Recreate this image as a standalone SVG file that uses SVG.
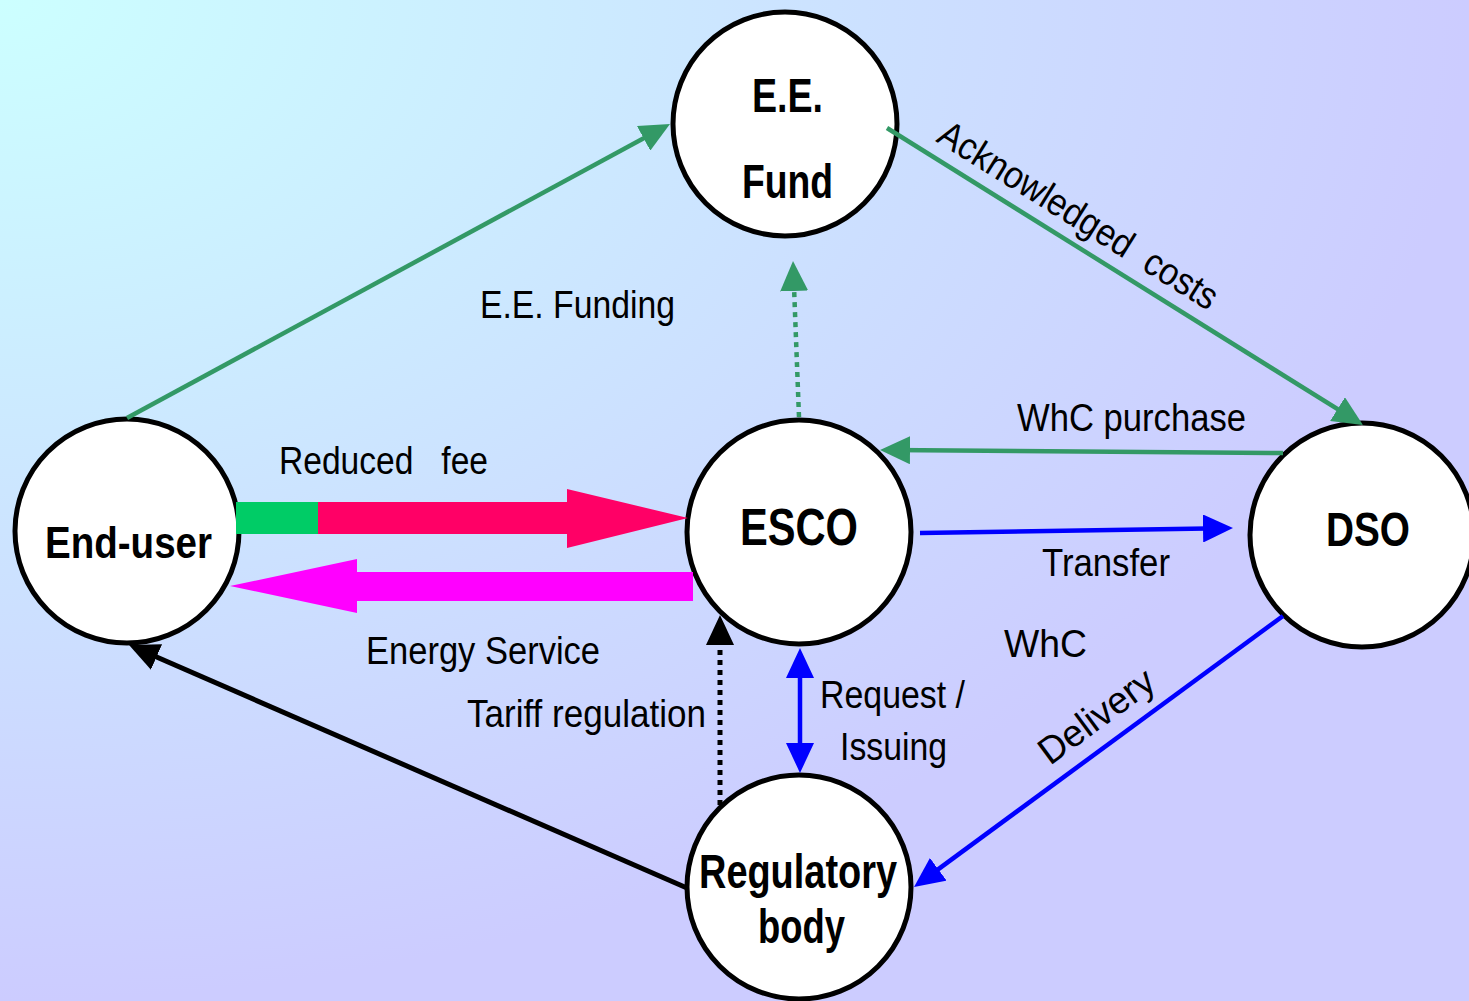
<svg xmlns="http://www.w3.org/2000/svg" width="1469" height="1001" viewBox="0 0 1469 1001">
<defs>
<radialGradient id="bg" cx="0" cy="0" r="1" fx="0" fy="0" gradientUnits="objectBoundingBox">
<stop offset="0" stop-color="#ccffff"/>
<stop offset="1" stop-color="#ccccff"/>
</radialGradient>
<marker id="ag" markerUnits="userSpaceOnUse" markerWidth="30" markerHeight="28" viewBox="0 0 30 28" refX="20" refY="14" orient="auto"><path d="M0,0 L30,14 L0,28 z" fill="#339966"/></marker>
<marker id="ab" markerUnits="userSpaceOnUse" markerWidth="30" markerHeight="28" viewBox="0 0 30 28" refX="20" refY="14" orient="auto-start-reverse"><path d="M0,0 L30,14 L0,28 z" fill="#0000ff"/></marker>
<marker id="ak" markerUnits="userSpaceOnUse" markerWidth="30" markerHeight="28" viewBox="0 0 30 28" refX="20" refY="14" orient="auto"><path d="M0,0 L30,14 L0,28 z" fill="#000000"/></marker>
</defs>
<style>
.node circle{fill:#ffffff;stroke:#000000;stroke-width:5}
.nt{font-family:"Liberation Sans",Arial,sans-serif;font-weight:bold;fill:#000000}
.lb{font-family:"Liberation Sans",Arial,sans-serif;fill:#000000;font-size:38px}
.g{stroke:#339966;stroke-width:4.5;fill:none}
.b{stroke:#0000ff;stroke-width:4.5;fill:none}
.k{stroke:#000000;stroke-width:5;fill:none}
</style>
<rect x="0" y="0" width="1469" height="1001" fill="url(#bg)"/>

<g id="node-eefund" class="node">
<circle cx="785" cy="124" r="112"/>
<text class="nt" x="752" y="112" font-size="48" textLength="71" lengthAdjust="spacingAndGlyphs">E.E.</text>
<text class="nt" x="742" y="198" font-size="48" textLength="91" lengthAdjust="spacingAndGlyphs">Fund</text>
</g>
<g id="node-enduser" class="node">
<circle cx="127" cy="531" r="112"/>
<text class="nt" x="45" y="558" font-size="45" textLength="167" lengthAdjust="spacingAndGlyphs">End-user</text>
</g>
<g id="node-esco" class="node">
<circle cx="799" cy="532" r="112"/>
<text class="nt" x="740" y="545" font-size="52" textLength="118" lengthAdjust="spacingAndGlyphs">ESCO</text>
</g>
<g id="node-dso" class="node">
<circle cx="1362" cy="535" r="112"/>
<text class="nt" x="1326" y="546" font-size="49" textLength="84" lengthAdjust="spacingAndGlyphs">DSO</text>
</g>
<g id="node-regulatory" class="node">
<circle cx="799" cy="887" r="112"/>
<text class="nt" x="699" y="888" font-size="48" textLength="198" lengthAdjust="spacingAndGlyphs">Regulatory</text>
<text class="nt" x="758" y="943" font-size="48" textLength="87" lengthAdjust="spacingAndGlyphs">body</text>
</g>

<g id="connectors">
<line class="g" x1="127" y1="418" x2="661.2" y2="128.8" marker-end="url(#ag)"/>
<line class="g" x1="887" y1="128" x2="1354.5" y2="419.7" marker-end="url(#ag)"/>
<line class="g" x1="1283" y1="453" x2="890" y2="450.1" marker-end="url(#ag)"/>
<line class="g" x1="799" y1="417" x2="793.4" y2="271" stroke-width="6" stroke-dasharray="5 5" marker-end="url(#ag)"/>
<line class="b" x1="920" y1="533" x2="1223" y2="528.2" marker-end="url(#ab)"/>
<line class="b" x1="800" y1="658" x2="800" y2="763" stroke-width="5" marker-start="url(#ab)" marker-end="url(#ab)"/>
<line class="b" x1="1283" y1="616" x2="922.1" y2="881.1" marker-end="url(#ab)"/>
<line class="k" x1="720" y1="805" x2="720" y2="625" stroke-dasharray="5 5" marker-end="url(#ak)"/>
<line class="k" x1="687" y1="888" x2="138.2" y2="649" marker-end="url(#ak)"/>
<rect x="236" y="502" width="82" height="32" fill="#00cc66"/>
<polygon points="318,502 567,502 567,489 688,518 567,548 567,534 318,534" fill="#ff0066"/>
<polygon points="693,572 357,572 357,559 230,586 357,613 357,601 693,601" fill="#ff00ff"/>
</g>

<g id="labels">
<text class="lb" x="480" y="318" font-size="40" textLength="195" lengthAdjust="spacingAndGlyphs">E.E. Funding</text>
<text class="lb" x="935" y="141" font-size="40" xml:space="preserve" textLength="322" lengthAdjust="spacingAndGlyphs" transform="rotate(31.9 935 141)">Acknowledged  costs</text>
<text class="lb" x="279" y="474" font-size="38" xml:space="preserve" textLength="209" lengthAdjust="spacingAndGlyphs">Reduced   fee</text>
<text class="lb" x="1017" y="431" font-size="40" textLength="229" lengthAdjust="spacingAndGlyphs">WhC purchase</text>
<text class="lb" x="1042" y="576" font-size="39" textLength="128" lengthAdjust="spacingAndGlyphs">Transfer</text>
<text class="lb" x="366" y="664" font-size="39" textLength="234" lengthAdjust="spacingAndGlyphs">Energy Service</text>
<text class="lb" x="1004" y="657" font-size="45" textLength="83" lengthAdjust="spacingAndGlyphs">WhC</text>
<text class="lb" x="820" y="708" font-size="39" textLength="145" lengthAdjust="spacingAndGlyphs">Request /</text>
<text class="lb" x="840" y="760" font-size="39" textLength="107" lengthAdjust="spacingAndGlyphs">Issuing</text>
<text class="lb" x="467" y="727" font-size="40" textLength="239" lengthAdjust="spacingAndGlyphs">Tariff regulation</text>
<text class="lb" x="1050" y="766" font-size="39" textLength="134" lengthAdjust="spacingAndGlyphs" transform="rotate(-36.3 1050 766)">Delivery</text>
</g>
</svg>
